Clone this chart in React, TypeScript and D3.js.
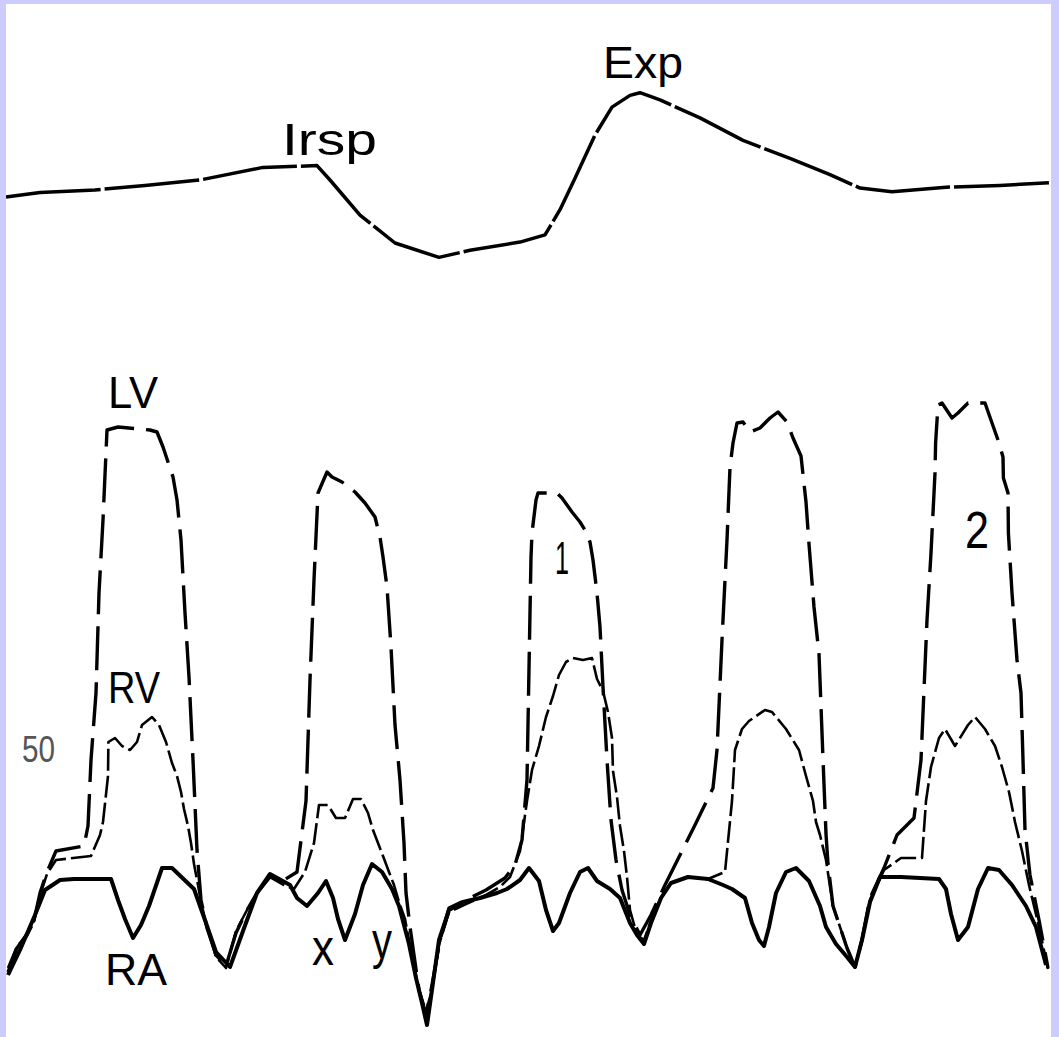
import React from 'react';
import * as d3 from 'd3';

// time in ms, pressure in mmHg, respiration in arbitrary units
const respTrace: [number, number][] = [
  [0, -1.9], [170, -1.4], [445, -1.1], [695, -0.6], [970, 0], [1285, 1.4], [1555, 1.6],
  [1620, 0], [1770, -3.9], [1945, -7.0], [2165, -8.6], [2320, -7.8], [2570, -6.9],
  [2695, -6.1], [2770, -3.3], [2845, 0.2], [2945, 5.0], [3030, 8.1], [3120, 9.4],
  [3170, 9.7], [3270, 8.9], [3470, 6.9], [3685, 4.4], [3920, 2.4], [4120, 0.6],
  [4270, -0.9], [4430, -1.3], [4700, -0.8], [4970, -0.6], [5220, -0.3],
];

const lvTrace: [number, number][] = [
  [10, 5.6], [55, 10.4], [105, 13.2], [140, 16], [170, 21.4], [205, 25.6], [250, 29.8],
  [390, 30.8], [410, 34.8], [425, 48], [450, 61.4], [465, 81.4], [485, 96], [505, 114],
  [560, 114.6], [720, 114], [755, 113.6], [785, 110.6], [810, 107.6], [835, 104.6],
  [855, 100], [875, 92], [895, 77.4], [915, 64.6], [935, 48], [955, 30], [975, 20],
  [1005, 14.4], [1050, 9], [1100, 6.8], [1150, 13.4], [1205, 18], [1255, 21.4],
  [1320, 24.6], [1390, 24], [1455, 25.6], [1500, 39.8], [1520, 64], [1540, 84],
  [1560, 101.4], [1605, 105.6], [1630, 104.6], [1680, 103.6], [1745, 101.6],
  [1795, 99.4], [1845, 96.6], [1870, 92.6], [1885, 88.6], [1905, 82.6], [1925, 70.6],
  [1945, 55], [1970, 44], [1990, 31.4], [2000, 21.4], [2020, 14.6], [2065, 2],
  [2100, -3], [2130, 3], [2170, 12], [2215, 18.4], [2300, 20], [2400, 22], [2495, 24.4],
  [2545, 27], [2580, 32], [2605, 44], [2625, 88.6], [2630, 93.4], [2650, 100],
  [2660, 101.4], [2755, 101.4], [2780, 100.4], [2830, 97.6], [2870, 95.6], [2895, 94],
  [2920, 91.6], [2935, 88], [2955, 81.4], [2970, 74.6], [2985, 62.6], [3005, 48],
  [3025, 36], [3050, 28], [3080, 22], [3120, 17], [3170, 13], [3225, 17], [3295, 23],
  [3370, 29], [3445, 35], [3535, 42.4], [3555, 50], [3580, 72], [3605, 92],
  [3620, 106.6], [3635, 111.4], [3655, 115.4], [3685, 115.6], [3720, 113.6],
  [3770, 114.4], [3820, 116.4], [3860, 117.6], [3905, 115.6], [3935, 112.4],
  [3975, 108.8], [4000, 99.6], [4015, 91.2], [4040, 78.6], [4065, 69.2], [4085, 48.2],
  [4100, 33.2], [4110, 27.2], [4135, 18.8], [4205, 10.4], [4245, 6.6], [4280, 12],
  [4320, 20.4], [4390, 26.4], [4455, 33], [4540, 36.4], [4575, 48], [4605, 76],
  [4625, 89.4], [4645, 105.4], [4648, 111.4], [4660, 119], [4680, 119.4], [4730, 116.4],
  [4760, 117.4], [4810, 119.4], [4895, 119.4], [4930, 115.4], [4960, 112],
  [4985, 108.6], [4987, 104.4], [5010, 101.4], [5012, 93.4], [5030, 81.4], [5055, 68],
  [5075, 61.4], [5085, 48], [5095, 34], [5120, 25], [5165, 16], [5210, 6.4],
];

const rvTrace: [number, number][] = [
  [10, 6.4], [55, 10.8], [105, 12.8], [140, 15.6], [170, 21], [205, 25.2], [250, 28],
  [425, 28.8], [470, 33], [485, 35.6], [510, 44.8], [512, 51.6], [545, 52.4],
  [580, 50.8], [620, 50], [655, 51.6], [680, 55], [730, 56.6], [765, 55], [800, 51.6],
  [830, 47.4], [855, 44.8], [875, 41.6], [890, 38.2], [910, 34.8], [925, 31.4],
  [940, 27.2], [960, 23], [975, 19.6], [1000, 15.4], [1025, 12], [1050, 8.6],
  [1100, 6.4], [1150, 13.8], [1205, 18], [1255, 21.4], [1320, 24.6], [1390, 23],
  [1440, 22.2], [1495, 25.6], [1540, 31.4], [1565, 39], [1610, 39], [1650, 36.4],
  [1695, 36.4], [1735, 40.2], [1775, 40.2], [1810, 37.4], [1835, 34], [1860, 31.4],
  [1885, 28.8], [1915, 25.6], [1940, 23], [1965, 19.6], [1995, 16.2], [2030, 8.6],
  [2065, 2], [2100, -2.2], [2130, 2], [2165, 11], [2215, 17.6], [2300, 19.2],
  [2400, 21], [2470, 22.6], [2520, 24.6], [2570, 29.8], [2605, 39.8], [2630, 46],
  [2665, 50.8], [2700, 56.6], [2735, 60.8], [2765, 65], [2800, 67.6], [2835, 68.4],
  [2885, 68], [2930, 68.4], [2955, 64.2], [2985, 61.8], [3010, 57.6], [3030, 52.4],
  [3035, 45.8], [3055, 40.6], [3070, 34.8], [3090, 29.8], [3105, 24.6], [3120, 18],
  [3155, 13], [3190, 12], [3225, 15.8], [3275, 20.4], [3325, 23.4], [3410, 24.6],
  [3510, 24.2], [3595, 25.6], [3630, 39.8], [3645, 50], [3680, 54.2], [3715, 55.8],
  [3795, 58], [3830, 57.6], [3900, 54.2], [3965, 50], [4000, 44.8], [4035, 39.8],
  [4050, 35.6], [4070, 33], [4100, 28], [4135, 18.8], [4205, 10.4], [4245, 6.6],
  [4280, 12], [4320, 20], [4390, 26], [4475, 28.4], [4580, 28.4], [4600, 39.8],
  [4625, 46.6], [4665, 52.4], [4695, 54.2], [4745, 50.8], [4810, 55], [4845, 56.6],
  [4895, 54.2], [4945, 50.8], [4980, 46.6], [5015, 41.6], [5045, 35.6], [5080, 29.8],
  [5115, 23], [5165, 14.6], [5210, 6.2],
];

const raTrace: [number, number][] = [
  [10, 5], [70, 10], [145, 17], [195, 22], [270, 24], [340, 24.2], [475, 24.2],
  [525, 24.2], [560, 20], [595, 16.2], [635, 12.4], [675, 15], [715, 18.8], [780, 26.4],
  [830, 26.4], [940, 22.2], [1000, 15.4], [1050, 9.6], [1120, 6.6], [1185, 13.8],
  [1255, 21.4], [1320, 25.2], [1420, 23], [1455, 20.4], [1505, 18.8], [1560, 21.4],
  [1600, 23.8], [1635, 20.4], [1660, 16.2], [1695, 12], [1745, 17.2], [1785, 23],
  [1830, 27.2], [1880, 25.6], [1930, 22.2], [1965, 18.8], [2015, 11.2], [2050, 4.4],
  [2080, -0.6], [2105, -5], [2130, 2], [2165, 12], [2215, 18], [2285, 19.6],
  [2370, 20.4], [2455, 21.4], [2505, 22.2], [2570, 24], [2615, 26.4], [2665, 23.8],
  [2700, 18], [2735, 13.8], [2765, 15.4], [2820, 21.4], [2870, 25.6], [2910, 26.4],
  [2955, 23.8], [3020, 22.2], [3070, 20.4], [3120, 15.4], [3155, 13], [3190, 11.2],
  [3225, 15.4], [3275, 20.4], [3325, 23.4], [3410, 24.6], [3510, 24.2], [3585, 23],
  [3630, 22.2], [3695, 20.4], [3730, 15.4], [3765, 12], [3790, 10.8], [3815, 14.6],
  [3850, 21.4], [3900, 25.6], [3950, 26.4], [4015, 23.8], [4070, 18.8], [4100, 14.6],
  [4150, 11.2], [4205, 8.6], [4245, 6.6], [4280, 12], [4320, 19.6], [4370, 24.6],
  [4475, 24.6], [4665, 24.2], [4700, 22.2], [4725, 17.2], [4760, 12], [4810, 14.6],
  [4860, 22.2], [4910, 26.4], [4965, 26], [5030, 23], [5100, 18.8], [5150, 14.6],
  [5200, 7],
];

// trace labels: text, time, pressure, font size, width
const pressureLabels: [string, number, number, number, number][] = [
  ['LV', 510, 118.4, 44, 50],
  ['RV', 510, 59.4, 44, 52],
  ['RA', 495, 3, 44, 62],
  ['x', 1530, 7, 52, 22],
  ['y', 1830, 8.4, 52, 20],
  ['1', 2745, 85.2, 46, 14],
  ['2', 4795, 90.4, 52, 24],
];
const respLabels: [string, number, number, number, number][] = [
  ['Irsp', 1380, 2.8, 44, 95],
  ['Exp', 2985, 11.3, 44, 80],
];
const scaleMark = { text: '50', t: 80, p: 47.6 };

const W = 1059;
const H = 1037;

export default function App() {
  const x = d3.scaleLinear().domain([0, 5200]).range([6, 1046]);
  const y = d3.scaleLinear().domain([0, 120]).range([1000, 400]);
  const yResp = d3.scaleLinear().domain([-10, 10]).range([270, 90]);

  const pLine = d3.line<[number, number]>().x((d) => x(d[0])).y((d) => y(d[1]));
  const rLine = d3.line<[number, number]>().x((d) => x(d[0])).y((d) => yResp(d[1]));

  const font = '"Liberation Sans", Arial, sans-serif';

  return (
    <svg width={W} height={H} style={{ position: 'absolute', left: 0, top: 0, background: '#fff' }}>
      <rect x={0} y={0} width={W} height={H} fill="#fff" />
      <path d={rLine(respTrace) || ''} fill="none" stroke="#000" strokeWidth={3.5} strokeDasharray="95 4" strokeLinejoin="round" />
      <path d={pLine(raTrace) || ''} fill="none" stroke="#000" strokeWidth={4} strokeLinejoin="round" />
      <path d={pLine(rvTrace) || ''} fill="none" stroke="#000" strokeWidth={2.6} strokeDasharray="22 5" strokeLinejoin="round" />
      <path d={pLine(lvTrace) || ''} fill="none" stroke="#000" strokeWidth={3.4} strokeDasharray="44 12" strokeLinejoin="round" />
      {pressureLabels.map(([t, tm, p, fs, w]) => (
        <text key={t} x={x(tm)} y={y(p)} fontFamily={font} fontSize={fs} textLength={w}
          lengthAdjust="spacingAndGlyphs" fill="#000">{t}</text>
      ))}
      {respLabels.map(([t, tm, r, fs, w]) => (
        <text key={t} x={x(tm)} y={yResp(r)} fontFamily={font} fontSize={fs} textLength={w}
          lengthAdjust="spacingAndGlyphs" fill="#000">{t}</text>
      ))}
      <text x={x(scaleMark.t)} y={y(scaleMark.p)} fontFamily={font} fontSize={36} textLength={33}
        lengthAdjust="spacingAndGlyphs" fill="#555">{scaleMark.text}</text>
      <rect x={0} y={0} width={6} height={H} fill="#ccccff" />
      <rect x={0} y={0} width={W} height={4} fill="#ccccff" />
      <rect x={1051} y={0} width={8} height={H} fill="#ccccff" />
    </svg>
  );
}
